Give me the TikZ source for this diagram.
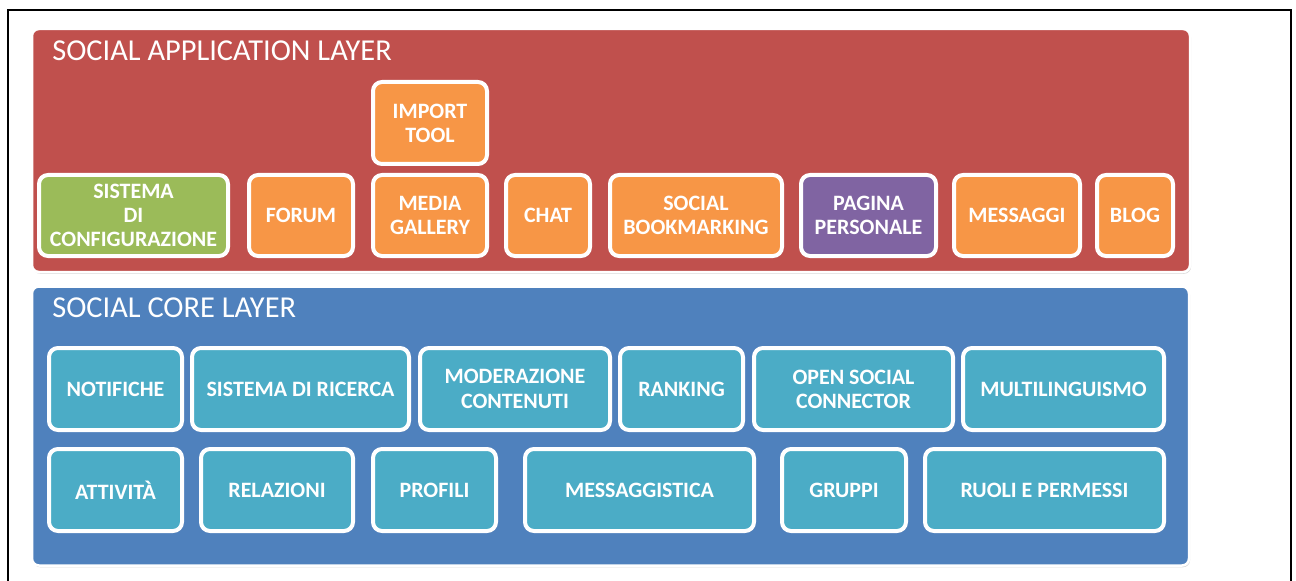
\documentclass[tikz,border=0pt]{standalone}
\usepackage{fontspec}
\setmainfont{Carlito}
\usetikzlibrary{shadows}
\definecolor{appred}{HTML}{C0504D}
\definecolor{coreblue}{HTML}{4F81BD}
\definecolor{apporange}{HTML}{F79646}
\definecolor{confgreen}{HTML}{9BBB59}
\definecolor{pagepurple}{HTML}{8064A2}
\definecolor{coreteal}{HTML}{4BACC6}
\newlength\px
\setlength\px{0.02cm}

\begin{document}
\begin{tikzpicture}[x=0.02cm,y=-0.02cm,
    layer/.style={draw=white, line width=2.5\px, rounded corners=7\px, inner sep=0pt,
        drop shadow={shadow xshift=0.6pt, shadow yshift=-1pt, opacity=.3}},
    ttl/.style={anchor=base west, text=white, inner sep=0pt, font=\fontsize{17.3}{20}\selectfont},
    comp/.style={draw=white, line width=4\px, rounded corners=9\px, inner sep=0pt,
        minimum height=81\px, text=white, align=center,
        font=\bfseries\fontsize{12.5}{13.8}\selectfont,
        drop shadow={shadow xshift=0.6pt, shadow yshift=-1pt, opacity=.35}},
    app/.style={comp, fill=apporange},
    core/.style={comp, fill=coreteal, minimum height=82\px},
]
\useasboundingbox (0,0) rectangle (1296,581);
\draw[line width=2\px] (8,581) -- (8,10) -- (1291,10) -- (1291,581);

\node[layer, fill=appred, minimum width=1158\px, minimum height=243\px] (applayer) at (611,150.5) {};
\node[layer, fill=coreblue, minimum width=1157\px, minimum height=279\px] (corelayer) at (610.5,426) {};
\node[ttl] (tapp) at (52,61) {SOCIAL APPLICATION LAYER};
\node[ttl] (tcore) at (52,317) {SOCIAL CORE LAYER};

\node[comp, fill=confgreen, minimum width=189\px] (conf) at (133.5,215.5) {SISTEMA\\DI\\CONFIGURAZIONE};
\node[app, minimum width=104\px] (forum) at (301,215.5) {FORUM};
\node[app, minimum width=114\px] (media) at (430,215.5) {MEDIA\\GALLERY};
\node[app, minimum width=114\px, minimum height=82\px] (import) at (430,123) {IMPORT\\TOOL};
\node[app, minimum width=84\px] (chat) at (548,215.5) {CHAT};
\node[app, minimum width=172\px] (bookmark) at (696,215.5) {SOCIAL\\BOOKMARKING};
\node[comp, fill=pagepurple, minimum width=135\px] (pagina) at (868.5,215.5) {PAGINA\\PERSONALE};
\node[app, minimum width=126\px] (messaggi) at (1017,215.5) {MESSAGGI};
\node[app, minimum width=76\px] (blog) at (1135,215.5) {BLOG};

\node[core, minimum width=133\px] (notifiche) at (115.5,389) {NOTIFICHE};
\node[core, minimum width=217\px] (ricerca) at (300.5,389) {SISTEMA DI RICERCA};
\node[core, minimum width=190\px] (moderazione) at (515,389) {MODERAZIONE\\CONTENUTI};
\node[core, minimum width=123\px] (ranking) at (681.5,389) {RANKING};
\node[core, minimum width=199\px] (opensocial) at (853.5,389) {OPEN SOCIAL\\CONNECTOR};
\node[core, minimum width=201\px] (multilingua) at (1063.5,389) {MULTILINGUISMO};

\node[core, minimum width=133\px] (attivita) at (115.5,490) {ATTIVITÀ};
\node[core, minimum width=152\px] (relazioni) at (277,490) {RELAZIONI};
\node[core, minimum width=123\px] (profili) at (434.5,490) {PROFILI};
\node[core, minimum width=229\px] (messaggistica) at (639.5,490) {MESSAGGISTICA};
\node[core, minimum width=124\px] (gruppi) at (844,490) {GRUPPI};
\node[core, minimum width=239\px] (ruoli) at (1044.5,490) {RUOLI E PERMESSI};
\end{tikzpicture}
\end{document}
